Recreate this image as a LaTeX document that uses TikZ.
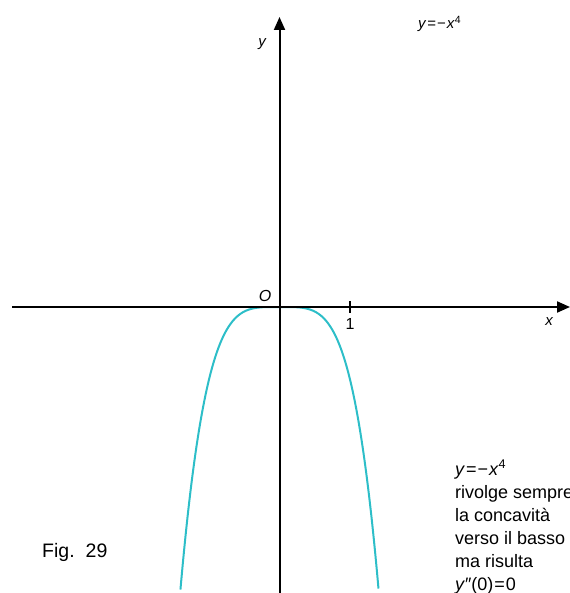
\documentclass[tikz,border=0pt]{standalone}
\usepackage{fontspec}
\setmainfont{Liberation Sans}
\usetikzlibrary{arrows.meta}
\definecolor{curvecyan}{RGB}{45,190,200}
\newcommand\setfs[1]{\fontsize{#1}{#1}\selectfont}
\begin{document}
\begin{tikzpicture}[x=1pt,y=-1pt,
  axisline/.style={line width=2pt,-{Triangle[length=13pt,width=11pt]}},
  curveline/.style={line width=2pt,curvecyan},
  lbl/.style={inner sep=0pt,font=\setfs{15}\itshape},
  note/.style={inner sep=0pt,anchor=base west,font=\setfs{18}}]
\useasboundingbox (0,0) rectangle (569,593);
% curve y = -x^4
\draw[curveline] plot[domain=-1.405:1.405,samples=200,smooth]
  ({279.5+70.5*\x},{307+72.5*\x*\x*\x*\x});
% axes
\coordinate (xl) at (12,307);
\coordinate (xr) at (570,307);
\coordinate (yb) at (279.5,593);
\coordinate (yt) at (279.5,17);
\draw[axisline] (xl) -- (xr);
\draw[axisline] (yb) -- (yt);
% tick at 1
\coordinate (t1) at (350,301);
\coordinate (t2) at (350,313);
\draw[line width=1.8pt] (t1) -- (t2);
% labels
\node[lbl] (ly) at (262,44) {y};
\node[lbl,font=\setfs{16}\itshape] (lo) at (265,296) {O};
\node[lbl,font=\setfs{16}] (l1) at (350,324) {1};
\node[lbl] (lx) at (549,321.5) {x};
\node[inner sep=0pt,anchor=base west,font=\setfs{15}] (title) at (418,29) {\textit{y}\kern1pt=\kern1pt−\kern1pt\textit{x}\textsuperscript{4}};
\node[inner sep=0pt,anchor=base west,font=\setfs{19.5}] (fig) at (42,557) {Fig.\hspace{11pt}29};
% note block
\node[note] (n1) at (455,475) {\textit{y}\kern1pt=\kern1pt−\kern1pt\textit{x}\textsuperscript{4}};
\node[note] (n2) at (455,498) {rivolge sempre};
\node[note] (n3) at (455,521) {la concavità};
\node[note] (n4) at (455,544) {verso il basso};
\node[note] (n5) at (455,567) {ma risulta};
\node[note] (n6) at (455,590) {\textit{y}″(0)\kern1pt=\kern1pt0};
\end{tikzpicture}
\end{document}
